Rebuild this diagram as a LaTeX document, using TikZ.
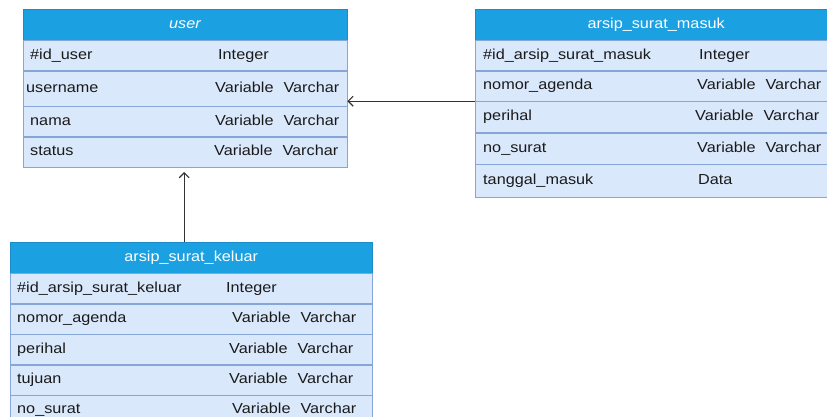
\documentclass[tikz,border=0pt]{standalone}
\usepackage{fontspec}
\setmainfont[FakeStretch=1.12]{Liberation Sans}
\usepackage{tikz}
\usetikzlibrary{arrows.meta,positioning,calc}
\definecolor{hdrfill}{HTML}{1BA1E2}
\definecolor{hdrline}{HTML}{1D8BC8}
\definecolor{rowfill}{HTML}{DAE8FC}
\definecolor{rowline}{HTML}{86A6D8}
\definecolor{ink}{HTML}{1A1A1A}
\definecolor{wire}{HTML}{333333}

\begin{document}
\begin{tikzpicture}[x=1pt, y=-1pt,
    hdr/.style={rectangle, draw=hdrline, fill=hdrfill, text=white,
                minimum height=31pt, inner sep=0pt, anchor=north west,
                text height=10.5pt, text depth=3pt,
                font=\fontsize{14.5}{17}\selectfont},
    fld/.style={rectangle, draw=rowline, fill=rowfill, text=ink,
                minimum height=30pt, inner ysep=0pt, align=left,
                text height=10.5pt, text depth=3pt,
                font=\fontsize{14.5}{17}\selectfont},
    typ/.style={anchor=west, inner sep=0pt, text=ink,
                text height=10.5pt, text depth=3pt,
                font=\fontsize{14.5}{17}\selectfont},
    conn/.style={draw=wire, line width=1.1pt, -{Straight Barb[length=5pt,width=10pt]}},
    node distance=0pt,
]
\useasboundingbox (0,0) rectangle (827,416);

% tabel user
\node[hdr, minimum width=324pt] (user) at (23,9) {\textit{user}};
\node[fld, text width=310pt, inner xsep=7pt, below=of user] (uid) {\#id\_user};
\node[fld, text width=318pt, inner xsep=3pt, minimum height=35pt, below=of uid] (uname) {username};
\node[fld, text width=310pt, inner xsep=7pt, below=of uname] (unama) {nama};
\node[fld, text width=310pt, inner xsep=7pt, below=of unama] (ustatus) {status};
\node[typ] at ([xshift=195pt]uid.west) {Integer};
\node[typ] at ([xshift=192pt]uname.west) {Variable\hspace{10pt}Varchar};
\node[typ] at ([xshift=192pt]unama.west) {Variable\hspace{10pt}Varchar};
\node[typ] at ([xshift=191pt]ustatus.west) {Variable\hspace{10pt}Varchar};

% tabel arsip_surat_masuk
\node[hdr, minimum width=362pt] (masuk) at (475,9) {arsip\_surat\_masuk};
\node[fld, text width=346pt, inner xsep=8pt, below=of masuk] (mid) {\#id\_arsip\_surat\_masuk};
\node[fld, text width=346pt, inner xsep=8pt, below=of mid] (mnomor) {nomor\_agenda};
\node[fld, text width=346pt, inner xsep=8pt, minimum height=31pt, below=of mnomor] (mperihal) {perihal};
\node[fld, text width=346pt, inner xsep=8pt, minimum height=31pt, below=of mperihal] (mnosurat) {no\_surat};
\node[fld, text width=346pt, inner xsep=8pt, minimum height=33pt, below=of mnosurat] (mtanggal) {tanggal\_masuk};
\node[typ] at ([xshift=224pt]mid.west) {Integer};
\node[typ] at ([xshift=222pt]mnomor.west) {Variable\hspace{10pt}Varchar};
\node[typ] at ([xshift=220pt]mperihal.west) {Variable\hspace{10pt}Varchar};
\node[typ] at ([xshift=222pt]mnosurat.west) {Variable\hspace{10pt}Varchar};
\node[typ] at ([xshift=223pt]mtanggal.west) {Data};

% tabel arsip_surat_keluar
\node[hdr, minimum width=362pt] (keluar) at (10,242) {arsip\_surat\_keluar};
\node[fld, text width=348pt, inner xsep=7pt, below=of keluar] (kid) {\#id\_arsip\_surat\_keluar};
\node[fld, text width=348pt, inner xsep=7pt, below=of kid] (knomor) {nomor\_agenda};
\node[fld, text width=348pt, inner xsep=7pt, below=of knomor] (kperihal) {perihal};
\node[fld, text width=348pt, inner xsep=7pt, below=of kperihal] (ktujuan) {tujuan};
\node[fld, text width=348pt, inner xsep=7pt, below=of ktujuan] (knosurat) {no\_surat};
\node[typ] at ([xshift=216pt]kid.west) {Integer};
\node[typ] at ([xshift=222pt]knomor.west) {Variable\hspace{10pt}Varchar};
\node[typ] at ([xshift=219pt]kperihal.west) {Variable\hspace{10pt}Varchar};
\node[typ] at ([xshift=219pt]ktujuan.west) {Variable\hspace{10pt}Varchar};
\node[typ] at ([xshift=222pt]knosurat.west) {Variable\hspace{10pt}Varchar};

% relasi
\draw[conn] (mnomor.south west) -- (mnomor.south west -| uname.east);
\draw[conn, shorten >=5pt] ([xshift=-7pt]keluar.north) -- ([xshift=-7pt]keluar.north |- ustatus.south);

\end{tikzpicture}
\end{document}
